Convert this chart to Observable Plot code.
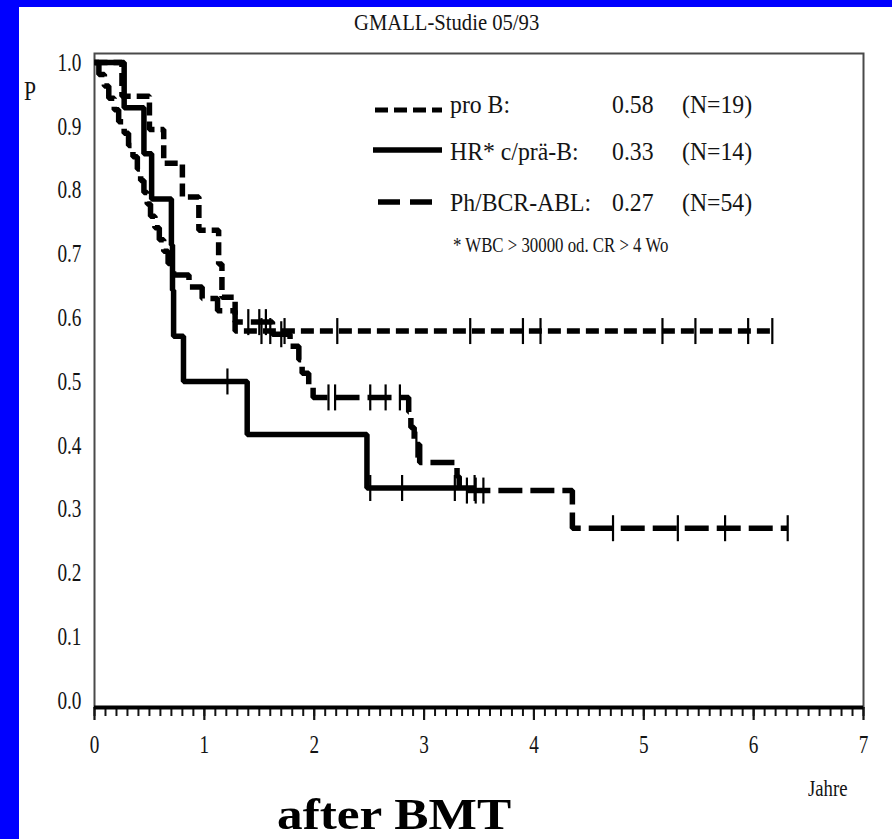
<!DOCTYPE html>
<html><head><meta charset="utf-8">
<script src="https://cdn.jsdelivr.net/npm/d3@7"></script>
<script src="https://cdn.jsdelivr.net/npm/@observablehq/plot@0.6"></script>
<style>
body{margin:0;background:#fff;}
#page{position:relative;width:892px;height:839px;overflow:hidden;background:#fff;font-family:"Liberation Serif","Times New Roman",serif;color:#141414;}
.abs{position:absolute;white-space:nowrap;line-height:1;}
#chart{position:absolute;left:0;top:0;}
</style></head><body><div id="page"><div id="chart"></div></div>
<script>
// ---------- data ----------
const title = "GMALL-Studie 05/93";
const caption = "after BMT";
const xLabel = "Jahre";
const yLabel = "P";
const xTicks = [0, 1, 2, 3, 4, 5, 6, 7];
const yTicks = [0.0, 0.1, 0.2, 0.3, 0.4, 0.5, 0.6, 0.7, 0.8, 0.9, 1.0];
const seriesNames = ["pro B:", "HR* c/prä-B:", "Ph/BCR-ABL:"];
const seriesRates = ["0.58", "0.33", "0.27"];
const seriesN = ["(N=19)", "(N=14)", "(N=54)"];
const footnote = "* WBC > 30000 od. CR > 4 Wo";

// pro B (short dashes)
const proBTimes = [0, 0.25, 0.50, 0.63, 0.80, 0.95, 1.13, 1.16, 1.28];
const proBSurv  = [1.0, 0.947, 0.895, 0.842, 0.789, 0.737, 0.684, 0.632, 0.579];
const proBCens  = [1.52, 1.60, 1.73, 2.21, 3.42, 3.90, 4.06, 5.17, 5.47, 5.95, 6.17];

// HR* c/prä-B (solid)
const hrTimes = [0, 0.27, 0.45, 0.52, 0.70, 0.71, 0.72, 0.81, 1.39, 2.48];
const hrSurv  = [1.0, 0.929, 0.857, 0.786, 0.714, 0.643, 0.571, 0.500, 0.417, 0.333];
const hrCens  = [1.21, 2.51, 2.80, 3.28, 3.46];

// Ph/BCR-ABL (long dashes)
const phTimes = [0, 0.04, 0.09, 0.13, 0.18, 0.22, 0.27, 0.31, 0.35, 0.39, 0.42, 0.45, 0.48, 0.51, 0.55, 0.59, 0.63, 0.67, 0.72, 0.86, 0.98, 1.12, 1.28, 1.62, 1.78, 1.86, 1.89, 1.95, 1.99, 2.86, 2.88, 2.91, 2.96, 3.30, 3.32, 4.35];
const phSurv  = [1.0, 0.981, 0.963, 0.944, 0.926, 0.907, 0.889, 0.870, 0.852, 0.833, 0.815, 0.796, 0.778, 0.759, 0.741, 0.722, 0.704, 0.685, 0.667, 0.648, 0.630, 0.611, 0.593, 0.574, 0.555, 0.534, 0.513, 0.492, 0.475, 0.452, 0.428, 0.401, 0.373, 0.351, 0.329, 0.270];
const phCens  = [1.40, 1.50, 1.56, 1.70, 2.13, 2.19, 2.51, 2.65, 2.78, 2.93, 3.39, 3.47, 3.54, 4.72, 5.31, 5.74, 6.31];

// ---------- helpers ----------
function survAt(times, surv, t) {
  let s = surv[0];
  for (let i = 0; i < times.length; i++) if (times[i] <= t) s = surv[i];
  return s;
}
function stepPoints(times, surv, cens) {
  const pts = times.map((t, i) => ({t, s: surv[i]}));
  pts.push({t: d3.max(cens), s: survAt(times, surv, d3.max(cens))});
  return pts;
}
function censPoints(times, surv, cens) {
  return cens.map(t => ({t, s: survAt(times, surv, t)}));
}
const vbar = {draw(ctx, size) { const r = Math.sqrt(size / Math.PI); ctx.moveTo(0, -r); ctx.lineTo(0, r); }};

const dashProB = "13,6";
const dashPh = "24,8";
const lineW = 5.5;
const yDomain = [-0.011, 1.014];
const minorTicks = d3.ticks(0, 7, 70);

const lineOpts = {x: "t", y: "s", curve: "step-after", stroke: "black", strokeWidth: lineW, strokeLinecap: "butt", strokeLinejoin: "miter"};
const censOpts = {x: "t", y: "s", symbol: vbar, r: 13, stroke: "black", strokeWidth: 2.2, fill: "none"};

const chart = Plot.plot({
  width: 892, height: 839,
  marginTop: 53, marginBottom: 132, marginLeft: 94, marginRight: 29,
  style: {background: "transparent", fontFamily: "Liberation Serif", color: "#141414"},
  x: {domain: [0, 7]},
  y: {domain: yDomain},
  marks: [
    Plot.frame({stroke: "#4a4a4a", strokeWidth: 2}),
    Plot.axisY(yTicks, {tickSize: 0, tickPadding: 13, tickFormat: d => d.toFixed(1), fontSize: 26, label: null}),
    Plot.axisX(minorTicks, {tickSize: 9, strokeWidth: 2, tickFormat: () => "", label: null}),
    Plot.axisX(xTicks, {tickSize: 13, strokeWidth: 2.2, tickPadding: 14, fontSize: 26, tickFormat: d => String(d), label: null}),
    Plot.ruleY([yDomain[0]], {stroke: "black", strokeWidth: 4}),
    Plot.line(stepPoints(proBTimes, proBSurv, proBCens), {...lineOpts, strokeDasharray: dashProB}),
    Plot.line(stepPoints(hrTimes, hrSurv, hrCens), {...lineOpts}),
    Plot.line(stepPoints(phTimes, phSurv, phCens), {...lineOpts, strokeDasharray: dashPh}),
    Plot.dot(censPoints(proBTimes, proBSurv, proBCens), censOpts),
    Plot.dot(censPoints(hrTimes, hrSurv, hrCens), censOpts),
    Plot.dot(censPoints(phTimes, phSurv, phCens), censOpts)
  ]
});
document.getElementById("chart").appendChild(chart);
// condense tick labels (original typeface is narrow)
chart.querySelectorAll('g[aria-label$="tick label"] text').forEach(t => {
  const w = t.getComputedTextLength();
  if (w > 0) { t.setAttribute("textLength", (w * 0.74).toFixed(1)); t.setAttribute("lengthAdjust", "spacingAndGlyphs"); }
});

// ---------- HTML overlays ----------
const page = document.getElementById("page");
function addText(txt, {left, baseline, size, weight = "normal", scaleX = 1, anchor = "left", color}) {
  const d = document.createElement("div");
  d.className = "abs";
  d.textContent = txt;
  d.style.fontSize = size + "px";
  d.style.fontWeight = weight;
  d.style.top = (baseline - 0.8375 * size) + "px";
  if (color) d.style.color = color;
  page.appendChild(d);
  if (anchor === "center") {
    const w = d.getBoundingClientRect().width;
    d.style.left = (left - w / 2) + "px";
    d.style.transformOrigin = "center";
  } else {
    d.style.left = left + "px";
    d.style.transformOrigin = "left";
  }
  d.style.transform = `scaleX(${scaleX})`;
  return d;
}
function addSample(x1, x2, yc, dash, w) {
  const ns = "http://www.w3.org/2000/svg";
  const s = document.createElementNS(ns, "svg");
  s.setAttribute("width", x2 - x1 + 2); s.setAttribute("height", 12);
  s.style.position = "absolute"; s.style.left = x1 + "px"; s.style.top = (yc - 6) + "px";
  const l = document.createElementNS(ns, "line");
  l.setAttribute("x1", 0); l.setAttribute("x2", x2 - x1); l.setAttribute("y1", 6); l.setAttribute("y2", 6);
  l.setAttribute("stroke", "black"); l.setAttribute("stroke-width", w);
  if (dash) l.setAttribute("stroke-dasharray", dash);
  s.appendChild(l);
  page.appendChild(s);
}

// blue border strips
const bl = document.createElement("div");
bl.style.cssText = "position:absolute;left:0;top:0;width:19px;height:839px;background:#0000ff;";
page.appendChild(bl);
const bt = document.createElement("div");
bt.style.cssText = "position:absolute;left:0;top:0;width:892px;height:7px;background:#0000ff;";
page.appendChild(bt);

addText(title, {left: 447, baseline: 30, size: 24, scaleX: 0.86, anchor: "center"});
addText(yLabel, {left: 24, baseline: 101, size: 27, scaleX: 0.8});
addText(xLabel, {left: 808, baseline: 796, size: 24, scaleX: 0.78});
addText(caption, {left: 277, baseline: 830, size: 45, weight: "bold", scaleX: 1.14, color: "#000"});

// legend
const rowBase = [113, 160, 211];
const rowLine = [110, 150, 202];
addSample(375, 442, rowLine[0], dashProB, 5);
addSample(373, 442, rowLine[1], null, 5.5);
addSample(378, 432, rowLine[2], "22,10", 5.5);
seriesNames.forEach((n, i) => {
  addText(n, {left: 450, baseline: rowBase[i], size: 25, scaleX: 0.95});
  addText(seriesRates[i], {left: 612, baseline: rowBase[i], size: 25, scaleX: 0.95});
  addText(seriesN[i], {left: 682, baseline: rowBase[i], size: 25, scaleX: 0.95});
});
addText(footnote, {left: 453, baseline: 253, size: 21, scaleX: 0.8});
</script></body></html>
